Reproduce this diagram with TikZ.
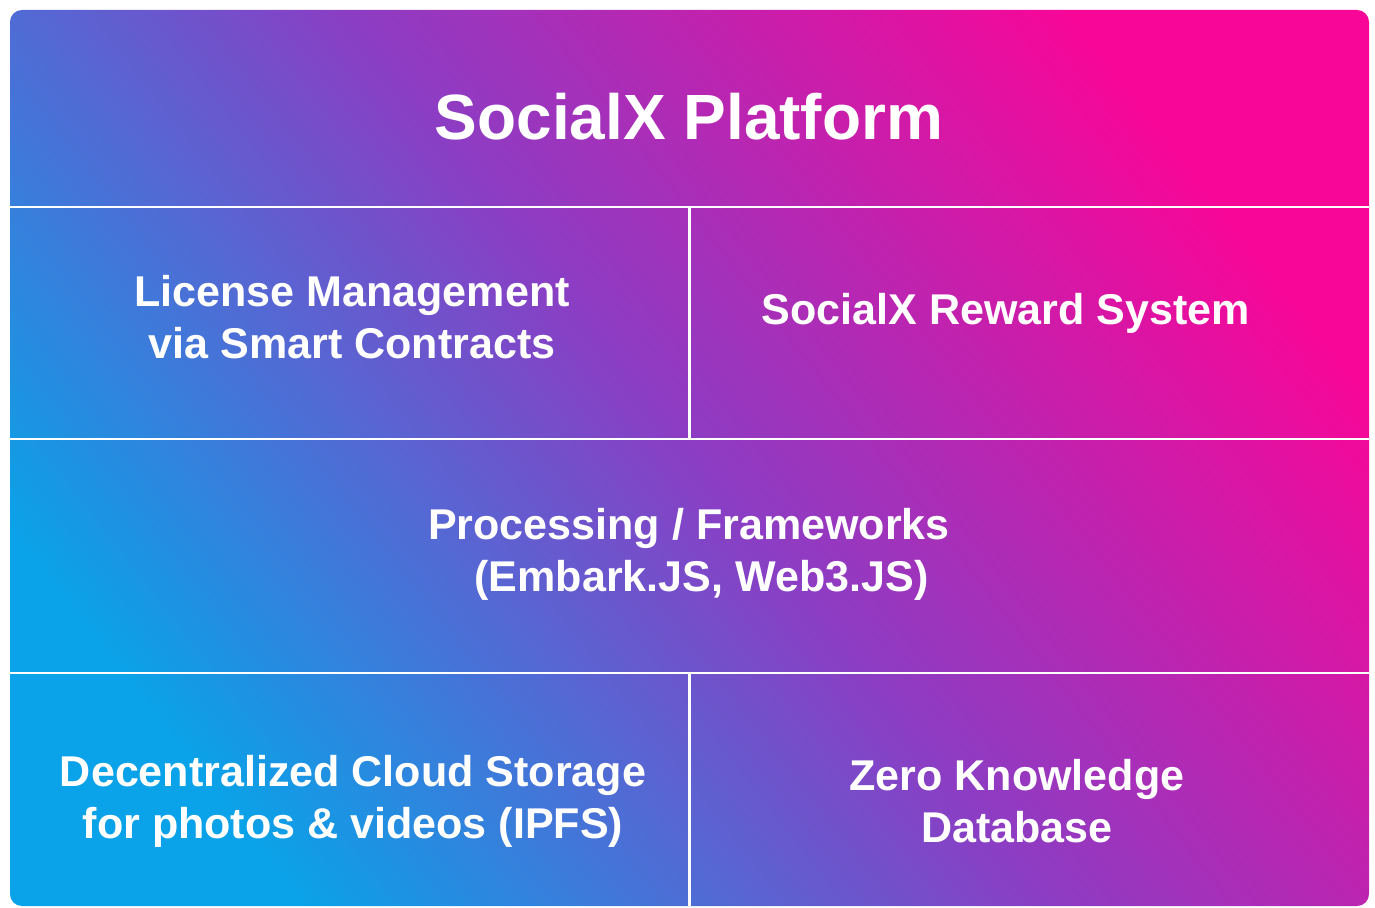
\documentclass[tikz,border=0pt]{standalone}
\usepackage{fontspec}
\setmainfont{Liberation Sans}
\usetikzlibrary{positioning}
\definecolor{sxblue}{RGB}{10,162,232}
\definecolor{sxpurple}{RGB}{138,62,196}
\definecolor{sxpink}{RGB}{248,6,152}
\tikzset{%
    panel/.style={
      rounded corners=6.8pt,
      shading=axis,
      bottom color=sxblue,
      top color=sxpink,
      middle color=sxpurple,
      shading angle=-52
    },
    divider/.style={
      draw=white,
      line width=1.7pt
    },
    cell/.style={
      text=white,
      align=center,
      font=\bfseries\fontsize{24.5}{29.6}\selectfont
    },
    heading/.style={
      text=white,
      font=\bfseries\fontsize{36.4}{44}\selectfont
    }
  }
\begin{document}
\begin{tikzpicture}[x=0.02cm, y=-0.02cm]
      \useasboundingbox (0,0) rectangle (1375,908);
      \fill [white] (0,0) rectangle (1375,908);
      \path [panel] (10,10) rectangle (1369,906);

      % row borders
      \coordinate (r1w) at (10,207);   \coordinate (r1e) at (1369,207);
      \coordinate (r2w) at (10,439);   \coordinate (r2e) at (1369,439);
      \coordinate (r3w) at (10,673);   \coordinate (r3e) at (1369,673);
      \coordinate (c2n) at (689,207);  \coordinate (c2s) at (689,439);
      \coordinate (c4n) at (689,673);  \coordinate (c4s) at (689,906);

      \draw [divider] (r1w) -- (r1e);
      \draw [divider] (r2w) -- (r2e);
      \draw [divider] (r3w) -- (r3e);
      \draw [divider] (c2n) -- (c2s);
      \draw [divider] (c4n) -- (c4s);

      \node [heading] (platform) at (689,117) {SocialX Platform};

      \node [cell] (license) at (352,317) {License Management\\via Smart Contracts};
      \node [cell] (reward) at (1006,313) {SocialX Reward System};

      \node [cell] (frameworks) at (689,554) {Processing / Frameworks\\\hspace*{0.5cm}(Embark.JS, Web3.JS)};

      \node [cell] (storage) at (353,801) {Decentralized Cloud Storage\\for photos \& videos (IPFS)};
      \node [cell] (zk) at (1017,801) {Zero Knowledge\\Database};
\end{tikzpicture}
\end{document}
